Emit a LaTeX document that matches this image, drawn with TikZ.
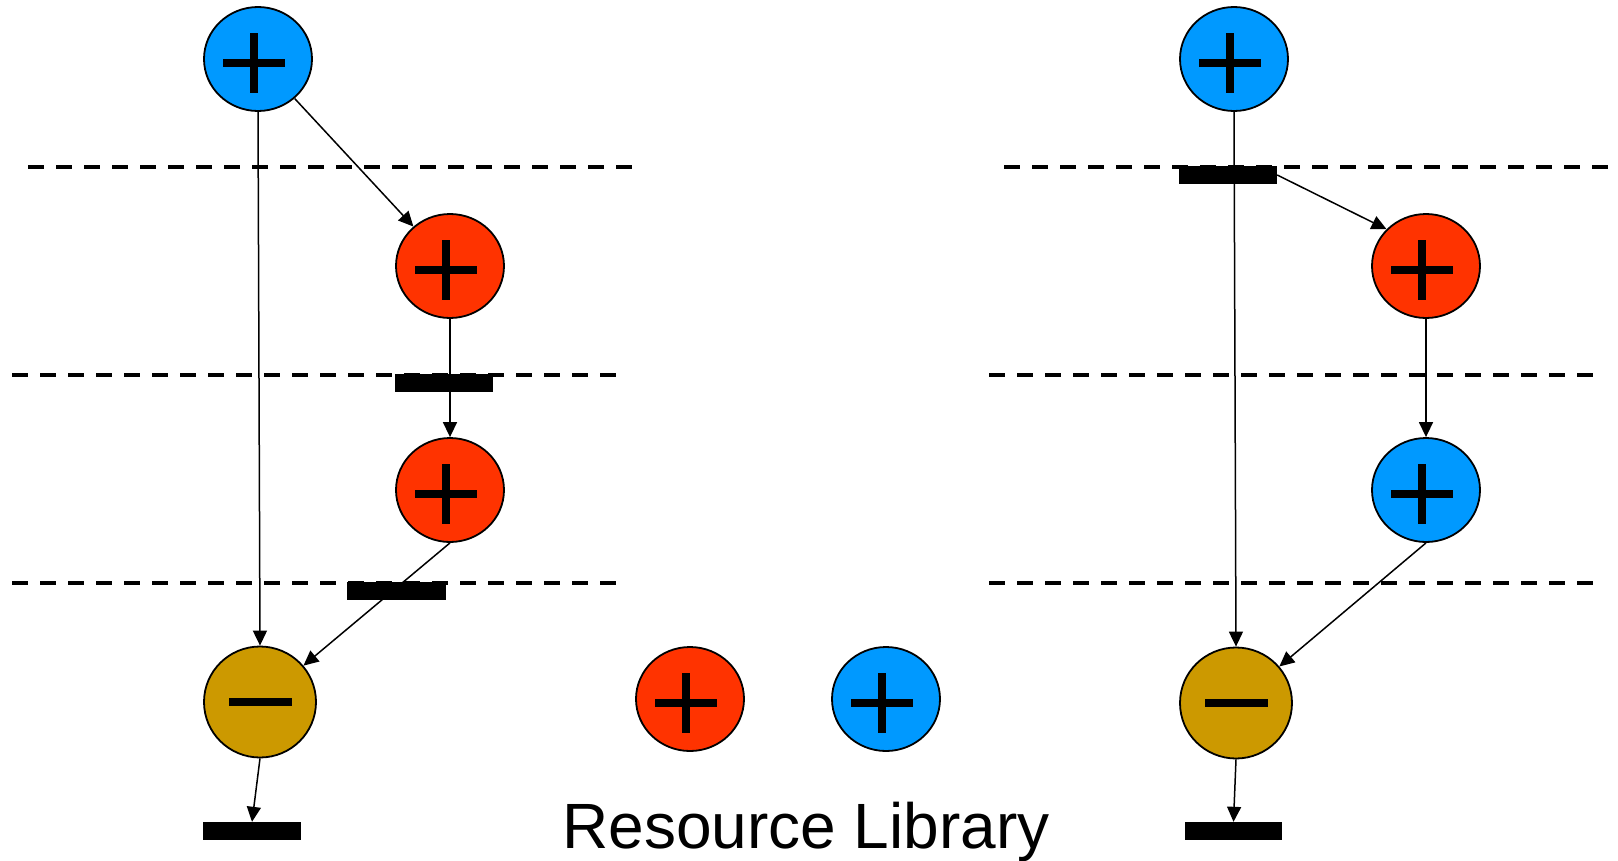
\documentclass[tikz,border=0pt]{standalone}
\usepackage{fontspec}
\setmainfont{Liberation Sans}
\usetikzlibrary{arrows.meta,shapes.geometric,calc}
\definecolor{resblue}{RGB}{0,153,255}
\definecolor{resred}{RGB}{255,51,0}
\definecolor{resgold}{RGB}{204,153,0}

\tikzset{
  opnode/.style={ellipse, draw=black, line width=1.8pt, minimum width=108pt,
    minimum height=104pt, inner sep=0pt},
  addblue/.style={opnode, fill=resblue},
  addred/.style={opnode, fill=resred},
  subgold/.style={opnode, fill=resgold, minimum width=112pt, minimum height=111pt},
  plussign/.pic={\fill (-31,-4) rectangle (31,4); \fill (-4,-30) rectangle (4,30);},
  minussign/.pic={\fill (-31.5,-4) rectangle (31.5,4);},
  tierline/.style={dash pattern=on 16pt off 12pt, line width=4pt},
  slotbar/.style={fill=black, minimum width=98pt, minimum height=18pt, inner sep=0pt},
  link/.style={line width=1.5pt, -{Triangle[length=15pt,width=14pt]}},
}

\begin{document}
\begin{tikzpicture}[x=1pt,y=-1pt]
\useasboundingbox (0,0) rectangle (1618,860);

% time-step boundaries
\coordinate (tl1a) at (28,167);  \coordinate (tl1b) at (632,167);
\coordinate (tl2a) at (12,375);  \coordinate (tl2b) at (616,375);
\coordinate (tl3a) at (12,583);  \coordinate (tl3b) at (616,583);
\coordinate (tr1a) at (1004,167); \coordinate (tr1b) at (1608,167);
\coordinate (tr2a) at (989,375);  \coordinate (tr2b) at (1594,375);
\coordinate (tr3a) at (989,583);  \coordinate (tr3b) at (1594,583);
\draw[tierline] (tl1a) -- (tl1b);
\draw[tierline] (tl2a) -- (tl2b);
\draw[tierline] (tl3a) -- (tl3b);
\draw[tierline] (tr1a) -- (tr1b);
\draw[tierline] (tr2a) -- (tr2b);
\draw[tierline] (tr3a) -- (tr3b);

% storage slots
\node[slotbar] (sL1) at (444,383) {};
\node[slotbar, minimum width=99pt] (sL2) at (396.5,591) {};
\node[slotbar] (sL3) at (252,831) {};
\node[slotbar] (sR1) at (1228,175) {};
\node[slotbar, minimum width=97pt] (sR2) at (1233.5,831) {};

% left schedule
\node[addblue] (bL1) at (258,59) {};
\node[addred]  (rL1) at (450,266) {};
\node[addred]  (rL2) at (450,490) {};
\node[subgold] (gL)  at (260,702) {};
\pic at (254,63) {plussign};
\pic at (446,270) {plussign};
\pic at (446,494) {plussign};
\pic at (260,702) {minussign};

\draw[link] (bL1.south) -- (gL.north);
\draw[link] (bL1) -- (rL1);
\draw[link] (rL1) -- (rL2);
\draw[link] (rL2.south) -- (gL);
\draw[link] (gL.south) -- (sL3.north);

% right schedule
\node[addblue] (bR1) at (1234,59) {};
\node[addred]  (rR1) at (1426,266) {};
\node[addblue] (bR2) at (1426,490) {};
\node[subgold] (gR)  at (1236,703) {};
\pic at (1230,63) {plussign};
\pic at (1422,270) {plussign};
\pic at (1422,494) {plussign};
\pic at (1236,703) {minussign};

\draw[link] (bR1.south) -- (gR.north);
\draw[link] (sR1.east) -- (rR1.137);
\draw[link] (rR1) -- (bR2);
\draw[link] (bR2.south) -- (gR);
\draw[link] (gR.south) -- (sR2.north);

% resource library
\node[addred]  (libR) at (690,699) {};
\node[addblue] (libB) at (886,699) {};
\pic at (686,703) {plussign};
\pic at (882,703) {plussign};
\node[anchor=base, font=\fontsize{64}{70}\selectfont, inner sep=0pt] (libtext) at (806,848) {Resource Library};
\end{tikzpicture}
\end{document}
